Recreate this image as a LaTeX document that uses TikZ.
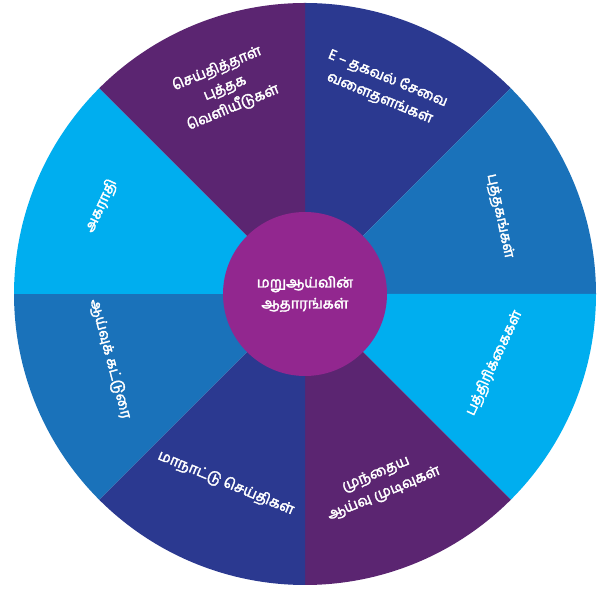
\documentclass[tikz,border=0pt]{standalone}
\usepackage{fontspec}
\newfontfamily\tamil[Script=Tamil, FakeBold=2.5]{Hind Madurai}
\definecolor{dblue}{HTML}{2B3990}
\definecolor{mblue}{HTML}{1A72BA}
\definecolor{cyanc}{HTML}{00AEEF}
\definecolor{purp}{HTML}{5B2571}
\definecolor{magc}{HTML}{92278F}
\tikzset{
  lbl/.style={text=white, font=\tamil\fontsize{14.5}{21}\selectfont, align=center, inner sep=0pt},
}
\begin{document}
\begin{tikzpicture}[x=1pt,y=1pt]
\useasboundingbox (0,0) rectangle (603,589);
\coordinate (O) at (305,295);
\def\R{291}
\foreach \a/\c in {90/dblue,45/mblue,0/cyanc,-45/purp,-90/dblue,-135/mblue,180/cyanc,135/purp}{
  \fill[\c] (O) -- ++(\a:\R) arc[start angle=\a, delta angle=-45, radius=\R] -- cycle;
}
\fill[magc] (O) circle[radius=82];
\node[lbl] (c) at (O) {மறுஆய்வின்\\ஆதாரங்கள்};
\node[lbl, rotate=22.5] (t1) at (225,501) {செய்தித்தாள்\\புத்தக\\வெளியீடுகள்};
\node[lbl, rotate=-22.5] (t2) at (384,501) {E – தகவல் சேவை\\வளைதளங்கள்};
\node[lbl, rotate=-78] (t3) at (500,373) {புத்தகங்கள்};
\node[lbl, rotate=65] (t4) at (494,226) {பத்திரிக்கைகள்};
\node[lbl, rotate=22.5] (t5) at (380,105) {முந்தைய\\ஆய்வு முடிவுகள்};
\node[lbl, rotate=-22.5] (t6) at (226,106) {மாநாட்டு செய்திகள்};
\node[lbl, rotate=-75] (t7) at (110,230) {ஆய்வுக் கட்டுரை};
\node[lbl, rotate=65] (t8) at (101,383) {அகராதி};
\end{tikzpicture}
\end{document}
